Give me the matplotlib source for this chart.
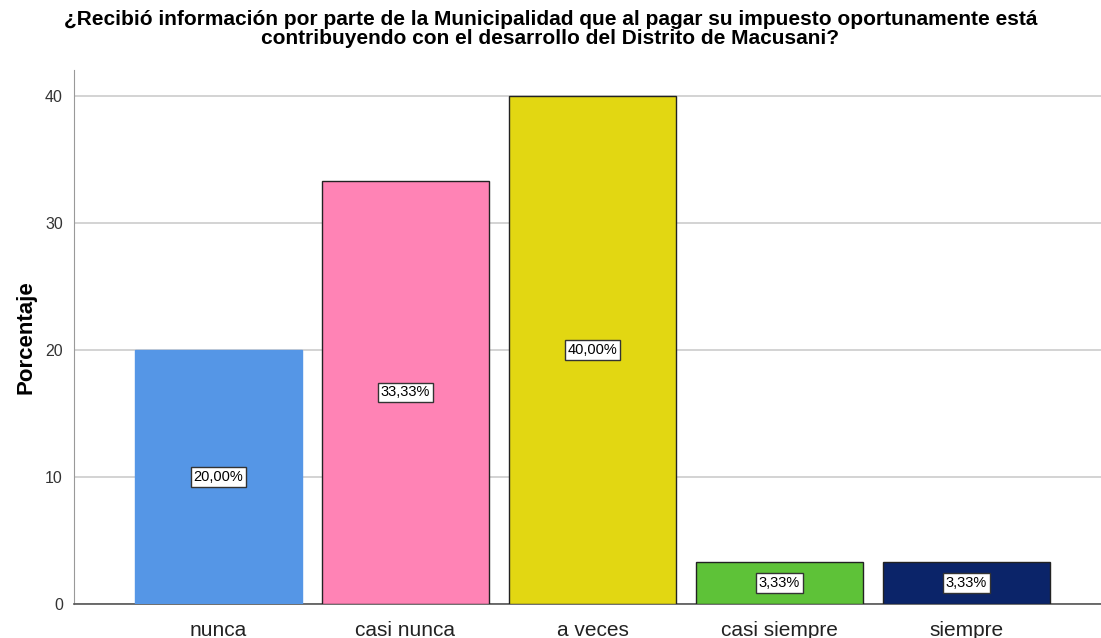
import matplotlib.pyplot as plt
from matplotlib import font_manager

categorias = ['nunca', 'casi nunca', 'a veces', 'casi siempre', 'siempre']
porcentajes = [20.00, 33.33, 40.00, 3.33, 3.33]
colores = ['#5596E6', '#FF83B5', '#E2D712', '#5EC238', '#0B2469']
bordes = ['#5596E6', '#222222', '#222222', '#222222', '#222222']
yticks = [0, 10, 20, 30, 40]

names = {f.name for f in font_manager.fontManager.ttflist}
narrow = 'Liberation Sans Narrow' if 'Liberation Sans Narrow' in names else 'Liberation Sans'
plt.rcParams['font.family'] = [narrow, 'DejaVu Sans']

fig = plt.figure(figsize=(11.01, 6.38), dpi=100)
ax = fig.add_axes([0.0672, 0.0533, 0.9328, 0.8367])

x = list(range(len(categorias)))
ax.bar(x, porcentajes, width=0.893, color=colores, edgecolor=bordes, linewidth=1, zorder=3)

for xi, v in zip(x, porcentajes):
    ax.text(xi, v / 2, f'{v:.2f}%'.replace('.', ','), ha='center', va='center', fontsize=10.5,
            zorder=4, bbox=dict(boxstyle='square,pad=0.2', facecolor='white', edgecolor='#333333', linewidth=1))

ax.set_xlim(-0.773, 4.72)
ax.set_ylim(0, 42.05)
ax.set_yticks(yticks)
ax.set_xticks(x)
ax.set_xticklabels(categorias, fontsize=15, color='#222222')
ax.tick_params(axis='y', labelsize=11.5, length=0, pad=8, colors='#333333')
ax.tick_params(axis='x', length=0, pad=12)
ax.yaxis.grid(True, color='#CCCCCC', linewidth=1.2, zorder=0)
ax.set_axisbelow(True)

for s in ['top', 'right']:
    ax.spines[s].set_visible(False)
ax.spines['left'].set_color('#999999')
ax.spines['bottom'].set_color('#555555')
ax.spines['bottom'].set_linewidth(1.2)

ax.set_ylabel('Porcentaje', fontsize=16, fontweight='bold', family=['Liberation Sans', 'DejaVu Sans'], labelpad=6)

fig.text(0.5, 0.985, '¿Recibió información por parte de la Municipalidad que al pagar su impuesto oportunamente está\n'
         'contribuyendo con el desarrollo del Distrito de Macusani?',
         ha='center', va='top', fontsize=15, fontweight='bold', linespacing=1.0,
         family=[narrow, 'DejaVu Sans'])

fig.savefig('out.png', dpi=100)
